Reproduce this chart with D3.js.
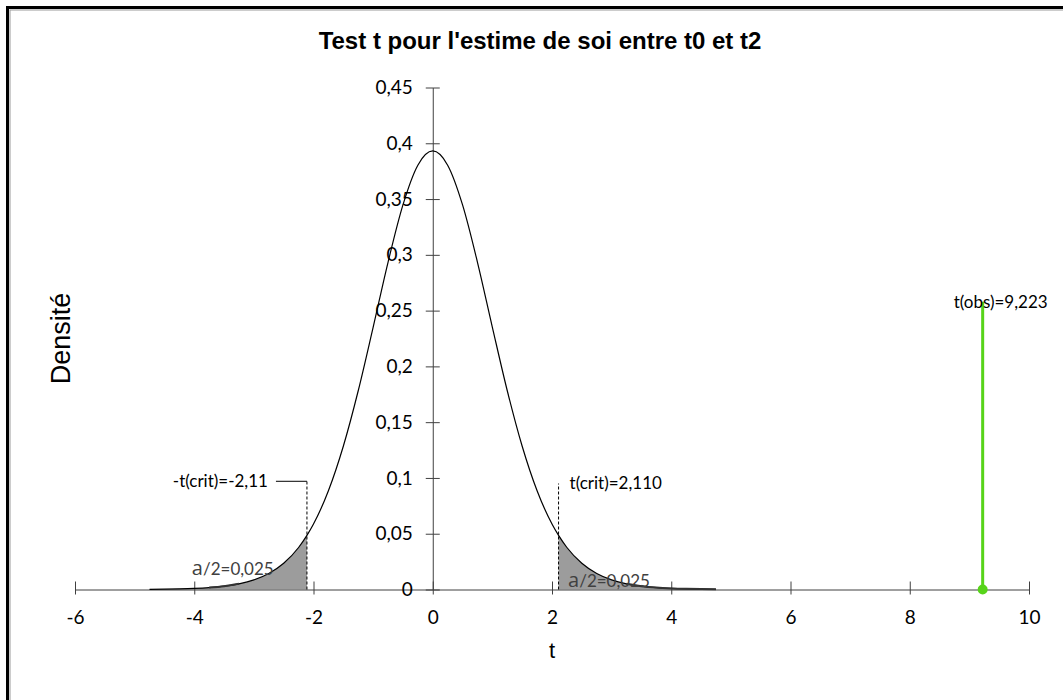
<!DOCTYPE html>
<html><head><meta charset="utf-8">
<script src="https://cdn.jsdelivr.net/npm/d3@7"></script>
<style>
html,body{margin:0;padding:0;background:#fff;}
svg{display:block;}
</style></head>
<body>
<svg id="chart" width="1063" height="700"></svg>
<script>
// ---- data ----
const tValues = [-4.75,-4.5,-4.25,-4,-3.75,-3.5,-3.25,-3,-2.75,-2.5,-2.25,-2.11,-2,-1.75,-1.5,-1.25,-1,-0.75,-0.5,-0.25,0,
                 0.25,0.5,0.75,1,1.25,1.5,1.75,2,2.11,2.25,2.5,2.75,3,3.25,3.5,3.75,4,4.25,4.5,4.75];
const density = [0.000196,0.000338,0.000582,0.001005,0.001731,0.002974,0.005078,0.008587,0.01433,0.02348,0.03764,0.04846,0.0587,0.08853,0.12844,0.17817,0.23502,0.29329,0.34472,0.38035,0.39312,
                 0.38035,0.34472,0.29329,0.23502,0.17817,0.12844,0.08853,0.0587,0.04846,0.03764,0.02348,0.01433,0.008587,0.005078,0.002974,0.001731,0.001005,0.000582,0.000338,0.000196];
const xTicks = [-6,-4,-2,0,2,4,6,8,10];
const yTicks = [0,0.05,0.1,0.15,0.2,0.25,0.3,0.35,0.4,0.45];
const tCrit = 2.11;
const tObs = 9.223;
const tObsHeight = 0.258;
const critLabels = ["-t(crit)=-2,11","t(crit)=2,110"];
const critLineTop = [0.097,0.095];
const alphaLabel = ["a","/2=0,025"];
const alphaLabelPos = [[-4.04,0.013],[2.27,0.0022]];
const obsLabel = "t(obs)=9,223";
const titleText = "Test t pour l'estime de soi entre t0 et t2";
const xTitle = "t", yTitle = "Densité";

const fmt = v => String(v).replace(".", ",");

// ---- layout ----
const svg = d3.select("#chart");
const x = d3.scaleLinear().domain([-6,10]).range([75,1029]);
const y = d3.scaleLinear().domain([0,0.45]).range([589.5,87.5]);
const pts = tValues.map((t,i)=>({t, d: density[i]}));

// frame
svg.append("rect").attr("x",7.5).attr("y",7.5).attr("width",2000).attr("height",2000)
  .attr("fill","none").attr("stroke","#000").attr("stroke-width",3);
svg.append("rect").attr("x",10).attr("y",10).attr("width",2000).attr("height",2000)
  .attr("fill","none").attr("stroke","#9a9a9a").attr("stroke-width",1);

// title
svg.append("text").attr("x",540).attr("y",49).attr("text-anchor","middle")
  .attr("font-family","Liberation Sans, Arial, sans-serif").attr("font-weight","bold")
  .attr("font-size",24).text(titleText);

// shaded tails
const area = d3.area().x(p=>x(p.t)).y0(y(0)).y1(p=>y(p.d)).curve(d3.curveMonotoneX);
svg.append("path").datum(pts.filter(p=>p.t<=-tCrit)).attr("d",area).attr("fill","#9c9c9c");
svg.append("path").datum(pts.filter(p=>p.t>=tCrit)).attr("d",area).attr("fill","#9c9c9c");

// axes
const tickFont = "Lato, 'Open Sans', sans-serif";
const axisColor = "#404040";
const gx = svg.append("g").attr("transform",`translate(0,${y(0)})`)
  .call(d3.axisBottom(x).tickValues(xTicks).tickFormat(fmt).tickSizeOuter(0));
gx.select(".domain").attr("stroke",axisColor);
gx.selectAll(".tick line").attr("stroke",axisColor).attr("y1",-8).attr("y2",5);
gx.selectAll(".tick text").attr("font-family",tickFont).attr("font-size",19).attr("fill","#000").attr("y",21);

const gy = svg.append("g").attr("transform",`translate(${x(0)},0)`)
  .call(d3.axisLeft(y).tickValues(yTicks).tickFormat(fmt).tickSizeOuter(0));
gy.select(".domain").attr("stroke",axisColor);
gy.selectAll(".tick line").attr("stroke",axisColor).attr("x1",-7).attr("x2",7);
gy.selectAll(".tick text").attr("font-family",tickFont).attr("font-size",19).attr("fill","#000").attr("x",-20);

// curve
const line = d3.line().x(p=>x(p.t)).y(p=>y(p.d)).curve(d3.curveMonotoneX);
svg.append("path").datum(pts).attr("d",line).attr("fill","none").attr("stroke","#000").attr("stroke-width",1.2);
svg.append("path").datum(pts.filter(p=>p.t>=-3.8&&p.t<=-3.1)).attr("d",line).attr("fill","none").attr("stroke","#333").attr("stroke-width",2);
svg.append("path").datum(pts.filter(p=>p.t>=3.2)).attr("d",line).attr("fill","none").attr("stroke","#333").attr("stroke-width",2);

// critical lines
const annFont = "Lato, 'Open Sans', sans-serif";
const annSize = 17;
[-tCrit, tCrit].forEach((c,i)=>{
  svg.append("line").attr("x1",x(c)).attr("x2",x(c)).attr("y1",y(0)).attr("y2",y(critLineTop[i]))
    .attr("stroke","#000").attr("stroke-width",1).attr("stroke-dasharray","3,2");
});
svg.append("line").attr("x1",x(-tCrit)-31).attr("x2",x(-tCrit)).attr("y1",y(critLineTop[0])).attr("y2",y(critLineTop[0]))
  .attr("stroke","#000").attr("stroke-width",1);
svg.append("text").attr("x",x(-tCrit)-39).attr("y",y(critLineTop[0])).attr("dy","0.35em").attr("text-anchor","end")
  .attr("font-family",annFont).attr("font-size",annSize).text(critLabels[0]);
svg.append("text").attr("x",x(tCrit)+11).attr("y",y(critLineTop[1])).attr("dy","0.35em")
  .attr("font-family",annFont).attr("font-size",annSize).text(critLabels[1]);

// alpha labels
alphaLabelPos.forEach(p=>{
  const t = svg.append("text").attr("x",x(p[0])).attr("y",y(p[1]))
    .attr("font-family",annFont).attr("font-size",annSize).attr("fill","#404040");
  t.append("tspan").attr("font-size",20).attr("font-family","'Open Sans', Lato, sans-serif").text(alphaLabel[0]);
  t.append("tspan").text(alphaLabel[1]);
});

// observed t
const green = "#57d41a";
svg.append("line").attr("x1",x(tObs)).attr("x2",x(tObs)).attr("y1",y(0)).attr("y2",y(tObsHeight))
  .attr("stroke",green).attr("stroke-width",3);
svg.append("circle").attr("cx",x(tObs)).attr("cy",y(0)).attr("r",5).attr("fill",green);
svg.append("text").attr("x",x(tObs)-29).attr("y",y(tObsHeight)).attr("dy","0.35em")
  .attr("font-family",annFont).attr("font-size",annSize).text(obsLabel);

// axis titles
svg.append("text").attr("x",552).attr("y",658).attr("text-anchor","middle")
  .attr("font-family","Liberation Sans, Arial, sans-serif").attr("font-size",22).text(xTitle);
svg.append("text").attr("transform",`translate(70,${(y(0)+y(0.45))/2}) rotate(-90)`).attr("text-anchor","middle")
  .attr("font-family","Liberation Sans, Arial, sans-serif").attr("font-size",27).text(yTitle);
</script>
</body></html>
